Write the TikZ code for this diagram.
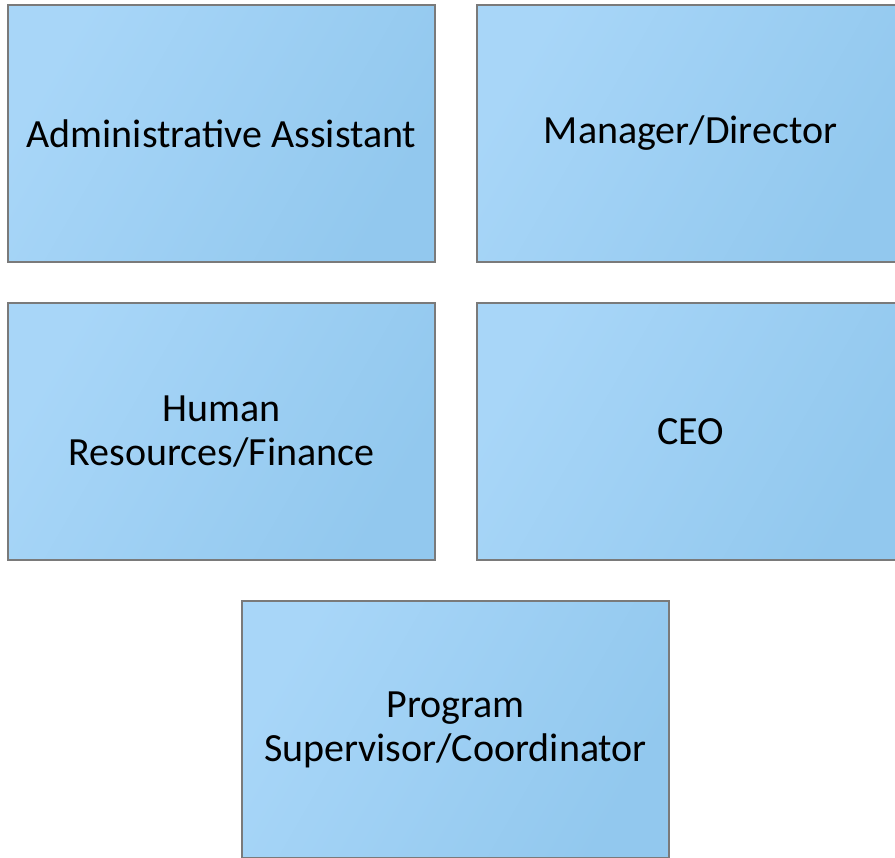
\documentclass[tikz,border=0pt]{standalone}
\usepackage{fontspec}
\setmainfont{Carlito}
\usepackage{tikz}
\definecolor{boxlight}{HTML}{A8D6F8}
\definecolor{boxdark}{HTML}{92C8EE}
\definecolor{boxline}{HTML}{7A7A7A}
\tikzset{
    rolebox/.style={draw=boxline, line width=1.1pt, left color=boxlight, right color=boxdark,
        shading angle=60, minimum width=320pt, minimum height=192.5pt,
        align=center, font=\fontsize{30}{33}\selectfont, inner sep=0pt}
}

\begin{document}
\begin{tikzpicture}[x=0.75pt, y=-0.75pt]
    % Page frame
    \useasboundingbox (0,0) rectangle (895,857);
    \clip (0,0) rectangle (895,857);

    % Top row
    \node[rolebox] (assistant) at (221.5,133.5) {Administrative Assistant};
    \node[rolebox] (manager) at (690.5,133.5) {Manager/Director};

    % Middle row
    \node[rolebox] (hrfin) at (221.5,431.5) {Human\\Resources/Finance};
    \node[rolebox] (ceo) at (690.5,431.5) {CEO};

    % Bottom box
    \node[rolebox] (program) at (455.5,729.5) {Program\\Supervisor/Coordinator};
\end{tikzpicture}
\end{document}
